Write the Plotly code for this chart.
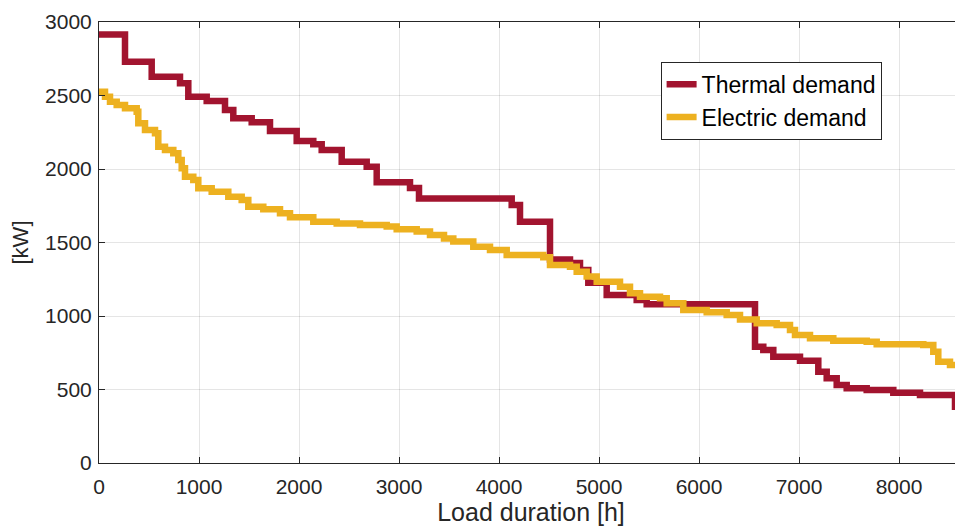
import plotly.graph_objects as go

# Thermal demand load-duration curve (step start hour, kW)
thermal_h = [0, 260, 527, 810, 893, 1077, 1260, 1343, 1527, 1710, 1977, 2143, 2227, 2427,
             2677, 2777, 3110, 3200, 4127, 4210, 4510, 4710, 4810, 4893, 5077, 5377, 5477,
             6560, 6643, 6743, 7010, 7193, 7277, 7377, 7477, 7677, 7943, 8210, 8560, 8760]
thermal_kw = [2915, 2730, 2628, 2583, 2492, 2463, 2401, 2345, 2318, 2258, 2190, 2168, 2129, 2050,
              2016, 1910, 1870, 1800, 1755, 1642, 1385, 1360, 1313, 1227, 1143, 1109, 1080,
              791, 769, 723, 695, 621, 576, 531, 508, 497, 478, 463, 383, 383]

# Electric demand load-duration curve (step start hour, kW)
electric_h = [0, 60, 110, 177, 260, 377, 393, 460, 560, 593, 660, 743, 793, 827, 860, 943,
              993, 1127, 1293, 1427, 1493, 1643, 1810, 1910, 2143, 2377, 2610, 2877, 2977,
              3177, 3310, 3450, 3543, 3743, 3910, 4077, 4443, 4510, 4710, 4777, 4877, 4977,
              5210, 5310, 5410, 5610, 5677, 5843, 6077, 6277, 6410, 6577, 6777, 6910, 6960,
              7110, 7343, 7677, 7777, 8243, 8343, 8393, 8510, 8640, 8760]
electric_kw = [2526, 2492, 2458, 2435, 2413, 2390, 2311, 2265, 2243, 2152, 2129, 2107, 2061,
               2005, 1948, 1925, 1869, 1846, 1812, 1789, 1744, 1726, 1699, 1672, 1642, 1630,
               1619, 1608, 1590, 1574, 1551, 1528, 1506, 1471, 1449, 1415, 1399, 1347, 1335,
               1301, 1268, 1233, 1199, 1154, 1131, 1120, 1086, 1041, 1025, 1007, 977, 950,
               939, 905, 871, 848, 832, 825, 807, 803, 757, 689, 667, 651, 640]

x_ticks = [0, 1000, 2000, 3000, 4000, 5000, 6000, 7000, 8000]
y_ticks = [0, 500, 1000, 1500, 2000, 2500, 3000]

FONT = "Liberation Sans, Arial, Helvetica, sans-serif"

fig = go.Figure()
fig.add_trace(go.Scatter(x=thermal_h, y=thermal_kw, mode="lines", name="Thermal demand",
                         line=dict(color="#A2142F", width=6.5, shape="hv")))
fig.add_trace(go.Scatter(x=electric_h, y=electric_kw, mode="lines", name="Electric demand",
                         line=dict(color="#EDB120", width=6.5, shape="hv")))

axis_common = dict(showgrid=True, gridcolor="rgba(0,0,0,0.1)", gridwidth=1,
                   showline=True, linecolor="#262626", linewidth=1, mirror="ticks",
                   ticks="inside", ticklen=6, tickcolor="#262626", zeroline=False,
                   automargin=False,
                   tickfont=dict(family=FONT, size=21, color="#262626"))

fig.update_xaxes(range=[0, 8640], tickvals=x_ticks, ticklabelstandoff=5,
                 title=dict(text="Load duration [h]", standoff=4,
                            font=dict(family=FONT, size=25, color="#262626")),
                 **axis_common)
fig.update_yaxes(range=[0, 3000], tickvals=y_ticks, ticklabelstandoff=2,
                 title=dict(text="[kW]", standoff=12,
                            font=dict(family=FONT, size=22, color="#262626")),
                 **axis_common)

# The page body has an 8px default margin, so the figure is sized to fit the window.
fig.update_layout(
    width=955, height=522,
    margin=dict(l=91, r=0, t=14, b=67),
    plot_bgcolor="white", paper_bgcolor="white",
    legend=dict(x=0.650, y=0.91, xanchor="left", yanchor="top",
                bgcolor="white", bordercolor="#262626", borderwidth=1,
                font=dict(family=FONT, size=23, color="black"),
                itemwidth=30, tracegroupgap=0),
    showlegend=True,
)

fig.write_html("out.html")
